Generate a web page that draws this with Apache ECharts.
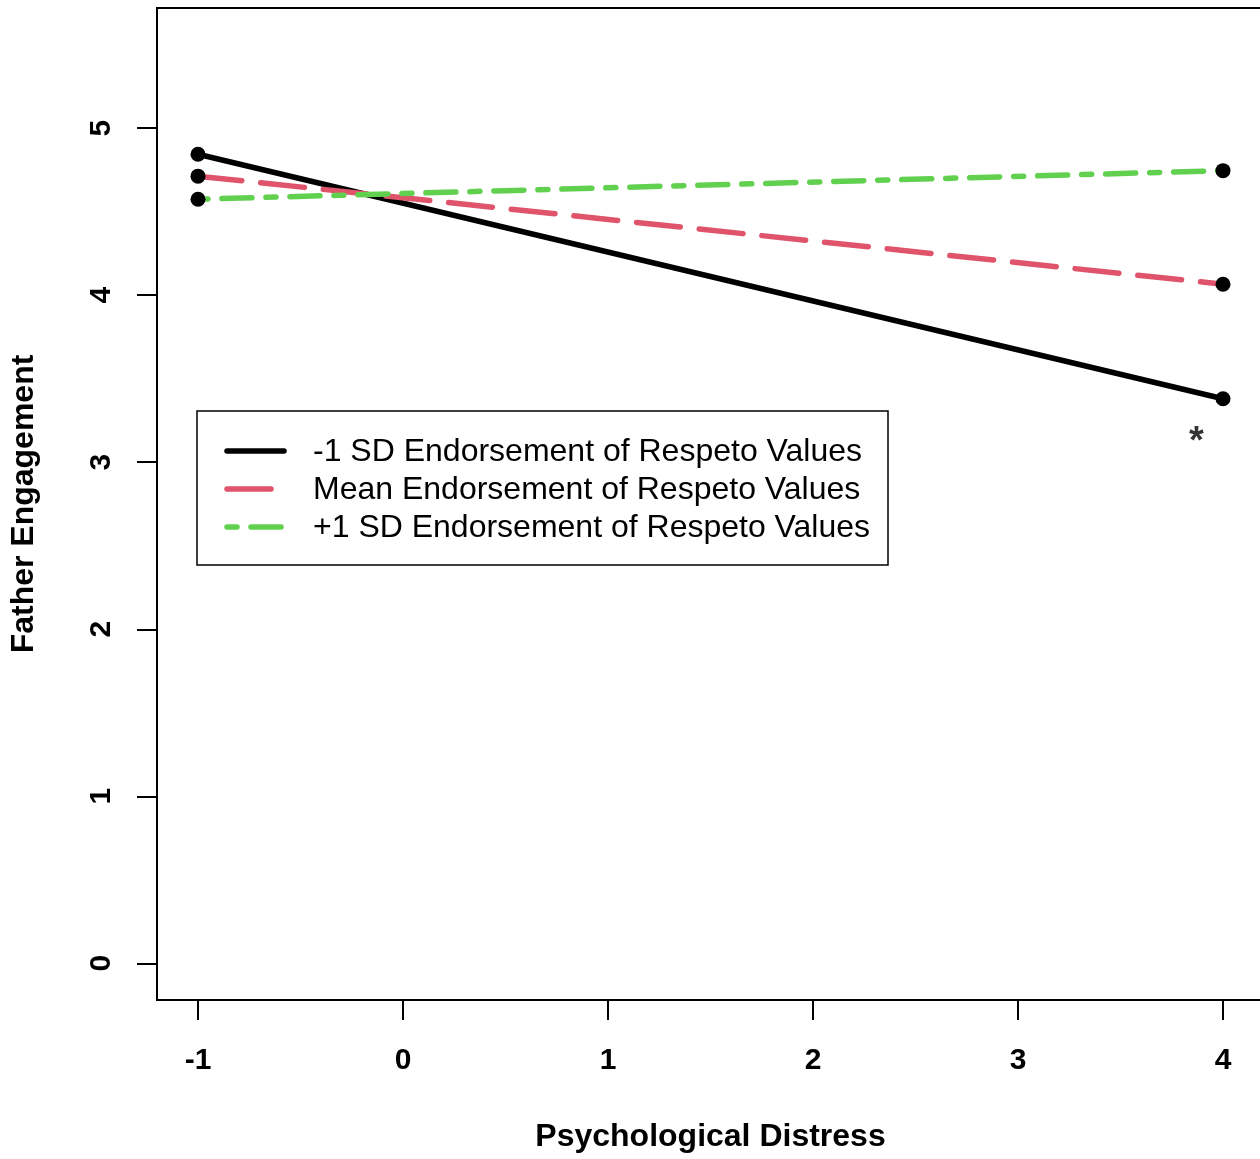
<!DOCTYPE html>
<html>
<head>
<meta charset="utf-8">
<script src="https://cdn.jsdelivr.net/npm/echarts@6/dist/echarts.min.js"></script>
<style>
  html, body { margin: 0; padding: 0; background: #fff; }
  #main { width: 1260px; height: 1159px; }
</style>
</head>
<body>
<div id="main"></div>
<script>
// data
var xPoints = [-1, 4];
var lowRespeto = [4.844, 3.380];   // -1 SD
var meanRespeto = [4.713, 4.066];  // mean
var highRespeto = [4.575, 4.746];  // +1 SD
var xTicks = [-1, 0, 1, 2, 3, 4];
var yTicks = [0, 1, 2, 3, 4, 5];
var starPoint = [3.87, 3.16];
var legendNames = [
    '-1 SD Endorsement of Respeto Values',
    'Mean Endorsement of Respeto Values',
    '+1 SD Endorsement of Respeto Values'
];

var fontFam = 'Liberation Sans, Arial, Helvetica, sans-serif';
var black = '#000000';
var red = '#DF536B';
var green = '#61D04F';
var lw = 5.5;
var redDash = [44, 19];
var greenDash = [10, 14, 30, 14];

function pairs(ys) {
    return xPoints.map(function (x, i) { return [x, ys[i]]; });
}

function lineSeries(name, ys, color, dash) {
    return {
        name: name,
        type: 'line',
        data: pairs(ys),
        symbol: 'circle',
        symbolSize: 15,
        itemStyle: { color: black },
        lineStyle: { color: color, width: lw, type: dash, cap: 'round' },
        emphasis: { disabled: true },
        silent: true,
        z: 3
    };
}

var chart = echarts.init(document.getElementById('main'));

// legend box drawn by hand, like R's legend()
var legendColors = [black, red, green];
var legendDashes = ['solid', redDash, greenDash];
var legendRows = [451, 489, 527];
var legendGraphics = [{
    type: 'rect',
    shape: { x: 197, y: 411, width: 691, height: 154 },
    style: { fill: '#fff', stroke: black, lineWidth: 1.5 },
    z: 10
}];
legendNames.forEach(function (name, i) {
    legendGraphics.push({
        type: 'line',
        shape: { x1: 227, y1: legendRows[i], x2: 284, y2: legendRows[i] },
        style: {
            stroke: legendColors[i], lineWidth: lw, lineCap: 'round',
            lineDash: legendDashes[i] === 'solid' ? null : legendDashes[i]
        },
        z: 11
    });
    legendGraphics.push({
        type: 'text',
        x: 313, y: legendRows[i] + 1,
        style: {
            text: name, fill: black, fontSize: 32, fontFamily: fontFam,
            verticalAlign: 'middle', align: 'left'
        },
        z: 11
    });
});

var option = {
    animation: false,
    backgroundColor: '#fff',
    grid: {
        left: 157, top: 8, width: 1107, bottom: 159,
        outerBoundsMode: 'none',
        containLabel: false,
        show: true, borderColor: black, borderWidth: 2, backgroundColor: 'transparent'
    },
    xAxis: {
        type: 'value',
        min: -1.2, max: 4.2,
        name: 'Psychological Distress',
        nameLocation: 'middle',
        nameGap: 121,
        nameTextStyle: { fontSize: 32, fontWeight: 'bold', color: black, fontFamily: fontFam },
        axisLine: { show: false, onZero: false },
        axisTick: { show: true, length: 20, customValues: xTicks, lineStyle: { color: black, width: 2 } },
        axisLabel: {
            customValues: xTicks, margin: 46, fontSize: 30, fontWeight: 'bold',
            color: black, fontFamily: fontFam
        },
        splitLine: { show: false }
    },
    yAxis: {
        type: 'value',
        min: -0.22, max: 5.72,
        name: 'Father Engagement',
        nameLocation: 'middle',
        nameGap: 117,
        nameTextStyle: { fontSize: 32, fontWeight: 'bold', color: black, fontFamily: fontFam },
        axisLine: { show: false, onZero: false },
        axisTick: { show: true, length: 20, customValues: yTicks, lineStyle: { color: black, width: 2 } },
        axisLabel: {
            customValues: yTicks, margin: 40, fontSize: 30, fontWeight: 'bold',
            color: black, fontFamily: fontFam, rotate: 90
        },
        splitLine: { show: false }
    },
    series: [
        lineSeries(legendNames[0], lowRespeto, black, 'solid'),
        lineSeries(legendNames[1], meanRespeto, red, redDash),
        lineSeries(legendNames[2], highRespeto, green, greenDash),
        {
            type: 'scatter',
            data: [starPoint],
            symbolSize: 0,
            silent: true,
            label: {
                show: true, position: 'inside', formatter: '*', offset: [0, 7],
                fontSize: 38, fontWeight: 'bold', color: black, fontFamily: fontFam
            }
        }
    ],
    graphic: legendGraphics
};

chart.setOption(option);
</script>
</body>
</html>
